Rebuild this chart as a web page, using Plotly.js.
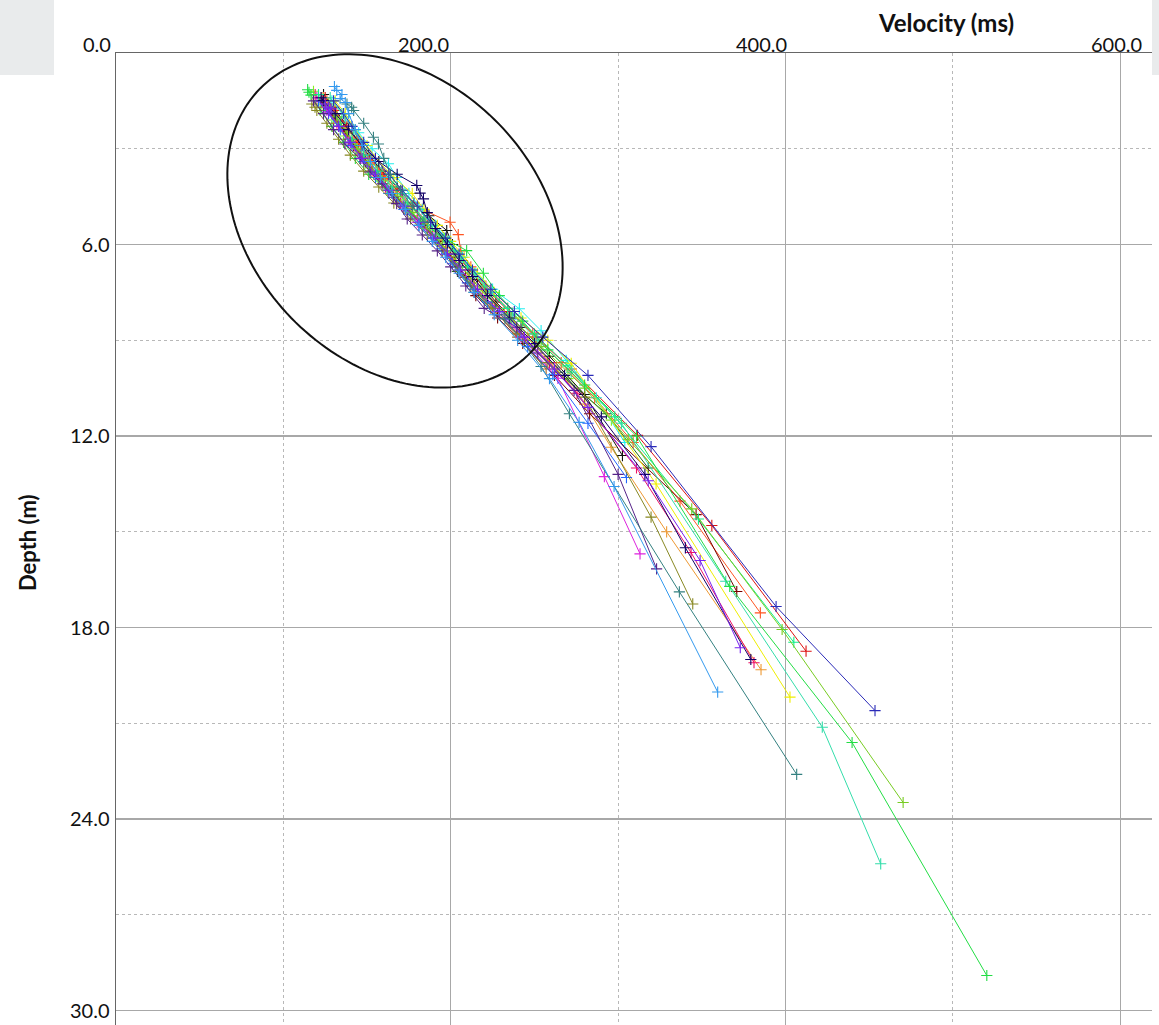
<!DOCTYPE html>
<html>
<head>
<meta charset="utf-8">
<script src="https://cdn.plot.ly/plotly-3.0.1.min.js"></script>
<style>
html,body{margin:0;padding:0;background:#ffffff;}
#chart{width:1159px;height:1025px;}
</style>
</head>
<body>
<div id="chart"></div>
<script>
// ---------- tick labels & titles ----------
const xTickVals = [0, 200, 400, 600];
const xTickText = ['0.0', '200.0', '400.0', '600.0'];
const yTickVals = [6, 12, 18, 24, 30];
const yTickText = ['6.0', '12.0', '18.0', '24.0', '30.0'];
const xTitle = 'Velocity (ms)';
const yTitle = 'Depth (m)';

// ---------- series (velocity, depth) ----------
const s01_v = [130, 136, 141, 148, 155, 163, 171, 180, 188, 197, 205, 213, 224, 238, 255, 282, 319.7, 394.4, 453.5];
const s01_d = [1.5, 1.9, 2.3, 2.8, 3.3, 3.8, 4.3, 4.8, 5.3, 5.8, 6.3, 6.8, 7.4, 8.1, 8.9, 10.1, 12.33, 17.34, 20.6];

const s02_v = [127, 132, 138, 144, 151, 159, 168, 177, 186, 195, 203, 211, 221, 236, 254, 280, 306, 344, 398, 470.3];
const s02_d = [1.6, 2.0, 2.5, 3.0, 3.5, 4.0, 4.5, 5.0, 5.5, 6.0, 6.5, 7.0, 7.6, 8.3, 9.2, 10.5, 12.1, 14.28, 18.06, 23.48];

const s03_v = [114.5, 115.3, 116.5, 122, 129, 136, 143, 151, 162, 172, 183, 196, 209.5, 219.5, 229, 243, 258, 280, 311, 366.7, 439.8, 520.3];
const s03_d = [1.15, 1.23, 1.32, 1.8, 2.3, 2.8, 3.3, 3.8, 4.3, 4.8, 5.3, 5.8, 6.19, 6.9, 7.6, 8.4, 9.3, 10.4, 12.0, 16.71, 21.6, 28.9];

const s04_v = [128, 135, 142, 148, 155, 163, 172, 181, 189, 198, 206, 214, 224, 237, 252, 272, 302, 364.3, 422, 456.9];
const s04_d = [1.4, 1.9, 2.4, 2.9, 3.4, 3.9, 4.4, 4.9, 5.4, 5.9, 6.4, 6.9, 7.5, 8.2, 9.0, 10.0, 11.6, 16.55, 21.12, 25.4];

const s05_v = [121, 127, 134, 141, 148, 156, 165, 174, 184, 193, 202, 210, 220, 234, 250, 270, 298, 348, 405];
const s05_d = [1.3, 1.7, 2.2, 2.7, 3.2, 3.7, 4.2, 4.7, 5.2, 5.7, 6.2, 6.7, 7.3, 8.0, 8.8, 9.8, 11.4, 14.6, 18.46];

const s06_v = [131, 137, 143, 150, 157, 166, 177, 184, 192, 200, 208, 216, 226, 242, 258, 272, 322.7, 402.7];
const s06_d = [1.5, 1.9, 2.4, 2.9, 3.4, 3.9, 4.4, 4.9, 5.4, 5.9, 6.4, 6.9, 7.5, 8.3, 9.0, 9.72, 13.5, 20.18];

const s07_v = [130.5, 131.9, 135, 133.9, 137, 139, 143, 147, 152, 158, 165, 173, 181, 189, 197, 205, 214, 226, 240, 259, 276.7, 297.6, 359.5];
const s07_d = [1.05, 1.17, 1.3, 1.43, 1.55, 1.9, 2.4, 2.9, 3.4, 3.9, 4.4, 4.9, 5.4, 5.9, 6.4, 6.9, 7.5, 8.2, 9.0, 10.2, 11.57, 13.58, 20.02];

const s08_v = [138, 140.8, 142, 148, 153.8, 156.8, 160, 164, 170, 177, 184, 191, 198, 205, 214, 232.4, 254, 270.9, 336.6, 406.7];
const s08_d = [1.6, 1.7, 1.8, 2.2, 2.64, 2.85, 3.3, 3.8, 4.3, 4.8, 5.3, 5.8, 6.3, 6.8, 7.4, 8.33, 9.82, 11.3, 16.88, 22.6];

const s09_v = [117, 118.9, 120, 126, 133, 140, 148, 157, 166, 176, 186, 195, 203, 212, 224, 240, 258, 280, 319.7, 344.6];
const s09_d = [1.6, 1.7, 1.8, 2.2, 2.7, 3.2, 3.7, 4.2, 4.7, 5.2, 5.7, 6.2, 6.7, 7.3, 8.0, 8.8, 9.7, 10.78, 14.54, 17.26];

const s10_v = [124, 130, 137, 144, 151, 159, 167, 176, 185, 194, 202, 210, 219, 232, 246, 263, 280, 295.8, 329, 385.4];
const s10_d = [1.4, 1.8, 2.3, 2.8, 3.3, 3.8, 4.3, 4.8, 5.3, 5.8, 6.3, 6.8, 7.4, 8.1, 8.9, 9.9, 11.0, 12.35, 15.0, 19.32];

const s11_v = [126, 132, 139, 146, 153, 161, 171, 183, 199.6, 204.5, 206, 212, 221, 234, 249, 266, 286, 309, 337, 385];
const s11_d = [1.5, 1.9, 2.4, 2.9, 3.4, 3.9, 4.4, 4.9, 5.30, 5.69, 6.2, 6.7, 7.3, 8.0, 8.8, 9.7, 10.8, 12.2, 14.04, 17.54];

const s12_v = [125, 131, 138, 145, 152, 160, 168, 177, 186, 195, 203, 211, 221, 235, 251, 272, 311.6, 356, 412.3];
const s12_d = [1.4, 1.8, 2.3, 2.8, 3.3, 3.8, 4.3, 4.8, 5.3, 5.8, 6.3, 6.8, 7.4, 8.1, 8.9, 9.9, 11.98, 14.8, 18.74];

const s13_v = [123, 129, 136, 142, 149, 157, 165, 174, 183, 192, 200, 208.9, 215, 228, 243, 262, 283, 346.6, 370.9];
const s13_d = [1.5, 1.9, 2.4, 2.9, 3.4, 3.9, 4.4, 4.9, 5.4, 5.9, 6.4, 7.02, 7.6, 8.3, 9.1, 10.1, 11.3, 14.46, 16.87];

const s14_v = [125, 126.9, 128.5, 127, 133, 140, 147, 155, 163, 172, 181, 190, 198, 206, 216, 229, 244, 262, 282, 318, 349, 373];
const s14_d = [1.6, 1.7, 1.75, 1.85, 2.3, 2.8, 3.3, 3.8, 4.3, 4.8, 5.3, 5.8, 6.3, 6.8, 7.4, 8.1, 8.9, 9.9, 11.1, 13.4, 15.9, 18.63];

const s15_v = [122.5, 123.9, 131, 139, 147, 157, 168, 179.7, 181.7, 183.7, 186, 191, 198, 205, 213, 222, 235, 250, 268, 290, 316, 340.2, 379.3];
const s15_d = [1.4, 1.49, 1.9, 2.4, 2.9, 3.4, 3.8, 4.15, 4.39, 4.57, 5.0, 5.5, 6.0, 6.5, 7.0, 7.6, 8.3, 9.1, 10.1, 11.4, 13.2, 15.5, 19.0];

const s16_v = [119, 125, 132, 139, 146, 153, 161, 170, 180, 189, 197, 205, 214, 226, 241, 259, 275.5, 311, 343.6, 381.2];
const s16_d = [1.3, 1.7, 2.2, 2.7, 3.2, 3.7, 4.2, 4.7, 5.2, 5.7, 6.2, 6.7, 7.3, 8.0, 8.8, 9.7, 10.66, 13.0, 15.65, 19.1];

const s17_v = [120, 126, 133, 139, 146, 154, 162, 171, 180, 189, 197, 205, 214, 226, 242, 264, 291.8, 313.1];
const s17_d = [1.4, 1.8, 2.3, 2.8, 3.3, 3.8, 4.3, 4.8, 5.3, 5.8, 6.3, 6.8, 7.4, 8.1, 8.9, 10.19, 13.27, 15.69];

const s18_v = [118, 124, 130, 136.8, 145.8, 151.8, 159, 165.6, 167.7, 174, 183, 192, 200, 209, 220, 239.4, 252, 273.7, 300, 323];
const s18_d = [1.5, 1.9, 2.4, 2.85, 3.31, 3.73, 4.1, 4.52, 4.72, 5.2, 5.7, 6.2, 6.7, 7.3, 8.0, 8.59, 9.4, 10.57, 13.2, 16.16];

const s19_v = [129, 137, 145, 153, 162.8, 168, 175, 183, 191, 199, 207, 215, 225, 241, 254, 269, 287, 304];
const s19_d = [1.5, 2.0, 2.5, 3.0, 3.47, 3.9, 4.4, 4.9, 5.4, 5.9, 6.4, 6.9, 7.4, 8.01, 8.7, 9.63, 10.8, 12.2];

const s20_v = [121, 127, 134, 141, 148, 155, 163, 172, 181, 189, 194.6, 201, 210, 222, 236, 246, 261, 282, 305];
const s20_d = [1.5, 1.9, 2.4, 2.9, 3.4, 3.9, 4.4, 4.9, 5.4, 5.8, 6.13, 6.6, 7.2, 7.8, 8.33, 9.2, 10.08, 11.6, 13.3];

const s21_v = [121, 127, 134, 141, 148, 156, 164, 173, 182, 191, 198, 204, 214, 228, 244, 264, 293, 318];
const s21_d = [1.4, 1.8, 2.3, 2.8, 3.3, 3.8, 4.3, 4.8, 5.3, 5.8, 6.3, 6.84, 7.5, 8.2, 9.0, 10.0, 11.3, 13.0];

const s22_v = [124, 130, 137, 144, 151, 159, 168, 178, 187, 197.6, 201, 207, 216, 227, 242, 259, 280, 302.6];
const s22_d = [1.3, 1.7, 2.2, 2.7, 3.2, 3.7, 4.2, 4.7, 5.1, 5.56, 6.0, 6.5, 7.1, 7.8, 8.6, 9.5, 10.7, 12.61];

const s23_v = [123, 130, 136, 143, 150, 158, 166, 175, 184, 193, 202, 212, 225, 240, 257];
const s23_d = [1.4, 1.9, 2.4, 2.9, 3.4, 3.9, 4.4, 4.9, 5.4, 5.9, 6.5, 7.2, 8.0, 8.9, 9.9];

const s24_v = [118, 123, 130, 137, 144, 152, 160, 169, 178, 188, 197, 206, 218, 232, 249, 270, 296];
const s24_d = [1.2, 1.6, 2.1, 2.6, 3.1, 3.6, 4.1, 4.6, 5.1, 5.6, 6.1, 6.7, 7.4, 8.2, 9.1, 10.2, 11.5];

const seriesV = [s23_v, s24_v, s21_v, s22_v, s10_v, s12_v, s11_v, s13_v, s16_v, s17_v, s20_v, s19_v, s05_v, s06_v, s04_v, s02_v, s03_v, s01_v, s09_v, s18_v, s15_v, s08_v, s14_v, s07_v];
const seriesD = [s23_d, s24_d, s21_d, s22_d, s10_d, s12_d, s11_d, s13_d, s16_d, s17_d, s20_d, s19_d, s05_d, s06_d, s04_d, s02_d, s03_d, s01_d, s09_d, s18_d, s15_d, s08_d, s14_d, s07_d];
const seriesColors = ['#aa6622', '#88ee22', '#226622', '#111111', '#ee9933', '#dd1111', '#ff5522', '#770000', '#ee1166', '#dd22dd', '#2266ff', '#22eeee', '#11ee88', '#eeee00', '#33ddaa', '#77cc22', '#22dd44', '#2a2ab8', '#888822', '#552288', '#110066', '#338080', '#7722ee', '#3399ee'];

// ---------- layout geometry ----------
const W = 1159, H = 1025;
const M = {l: 116, r: 7, t: 53, b: 0};
const plotW = W - M.l - M.r, plotH = H - M.t - M.b;
const xMax = 619, yMax = 30.45;
const kx = plotW / xMax, ky = plotH / yMax;
const pxX = p => (p - M.l) / plotW;          // pixel x -> paper
const pxY = p => 1 - (p - M.t) / plotH;       // pixel y -> paper

const traces = seriesV.map((v, i) => ({
  type: 'scatter', mode: 'lines+markers',
  x: v, y: seriesD[i],
  line: {color: seriesColors[i], width: 1},
  marker: {symbol: 'cross-thin', size: 8, color: seriesColors[i], line: {color: seriesColors[i], width: 1.1}},
  hoverinfo: 'skip', showlegend: false
}));

// ellipse outline (center in data units, semi-axes in px, rotation in degrees)
const ell = {cv: 166.7, cd: 5.26, a: 189, b: 142, deg: 44.4};
let ePath = '';
{
  const th = ell.deg * Math.PI / 180;
  for (let i = 0; i <= 180; i++) {
    const t = 2 * Math.PI * i / 180;
    const px = ell.a * Math.cos(t) * Math.cos(th) - ell.b * Math.sin(t) * Math.sin(th);
    const py = ell.a * Math.cos(t) * Math.sin(th) + ell.b * Math.sin(t) * Math.cos(th);
    ePath += (i ? 'L' : 'M') + (ell.cv + px / kx).toFixed(3) + ',' + (ell.cd + py / ky).toFixed(4);
  }
  ePath += 'Z';
}

const xLabelShift = [-3, 0, 4, 24];
const tickFont = {family: 'Lato, sans-serif', size: 20, color: '#111111'};
const xTitleFont = {family: 'Lato, sans-serif', size: 24, color: '#111111', weight: 'bold'};
const yTitleFont = {family: 'Lato, sans-serif', size: 22, color: '#111111', weight: 'bold'};

const annotations = xTickVals.map((v, i) => ({
  x: v, xref: 'x', y: 1, yref: 'paper', text: xTickText[i], showarrow: false,
  xanchor: 'right', yanchor: 'bottom', xshift: xLabelShift[i], yshift: -5, font: tickFont
}));
annotations.push({
  x: pxX(946), xref: 'paper', y: pxY(22), yref: 'paper', text: '<b>' + xTitle + '</b>', showarrow: false,
  xanchor: 'center', yanchor: 'middle', font: xTitleFont
});
annotations.push({
  x: pxX(27), xref: 'paper', y: pxY(543), yref: 'paper', text: '<b>' + yTitle + '</b>', showarrow: false,
  xanchor: 'center', yanchor: 'middle', textangle: -90, font: yTitleFont
});

const shapes = [
  {type: 'rect', xref: 'paper', yref: 'paper', x0: pxX(0), x1: pxX(54), y0: pxY(75), y1: pxY(0), fillcolor: '#e9ebec', line: {width: 0}, layer: 'below'},
  {type: 'rect', xref: 'paper', yref: 'paper', x0: pxX(1152), x1: pxX(1159), y0: pxY(75), y1: pxY(0), fillcolor: '#e9ebec', line: {width: 0}, layer: 'below'},
  {type: 'path', xref: 'x', yref: 'y', path: ePath, line: {color: '#111111', width: 2}, fillcolor: 'rgba(0,0,0,0)', layer: 'above'}
];

const layout = {
  width: W, height: H,
  margin: M,
  paper_bgcolor: '#ffffff', plot_bgcolor: '#ffffff',
  showlegend: false,
  font: tickFont,
  xaxis: {
    side: 'top', range: [0, xMax], tickmode: 'array', tickvals: xTickVals, showticklabels: false, ticks: '',
    showline: true, linecolor: '#666666', linewidth: 1.5, zeroline: false,
    showgrid: true, gridcolor: '#a8a8a8', gridwidth: 1.3,
    minor: {tickmode: 'linear', tick0: 0, dtick: 100, showgrid: true, gridcolor: '#b8b8b8', griddash: 'dot', gridwidth: 1, ticks: ''}
  },
  yaxis: {
    range: [yMax, 0], tickmode: 'array', tickvals: yTickVals, ticktext: yTickText, ticks: '',
    ticklabelstandoff: 1, tickfont: tickFont,
    showline: true, linecolor: '#666666', linewidth: 1.5, zeroline: false,
    showgrid: true, gridcolor: '#a8a8a8', gridwidth: 1.3,
    minor: {tickmode: 'linear', tick0: 0, dtick: 3, showgrid: true, gridcolor: '#b8b8b8', griddash: 'dot', gridwidth: 1, ticks: ''}
  },
  annotations: annotations,
  shapes: shapes
};

Plotly.newPlot('chart', traces, layout, {staticPlot: true, displayModeBar: false});
</script>
</body>
</html>
